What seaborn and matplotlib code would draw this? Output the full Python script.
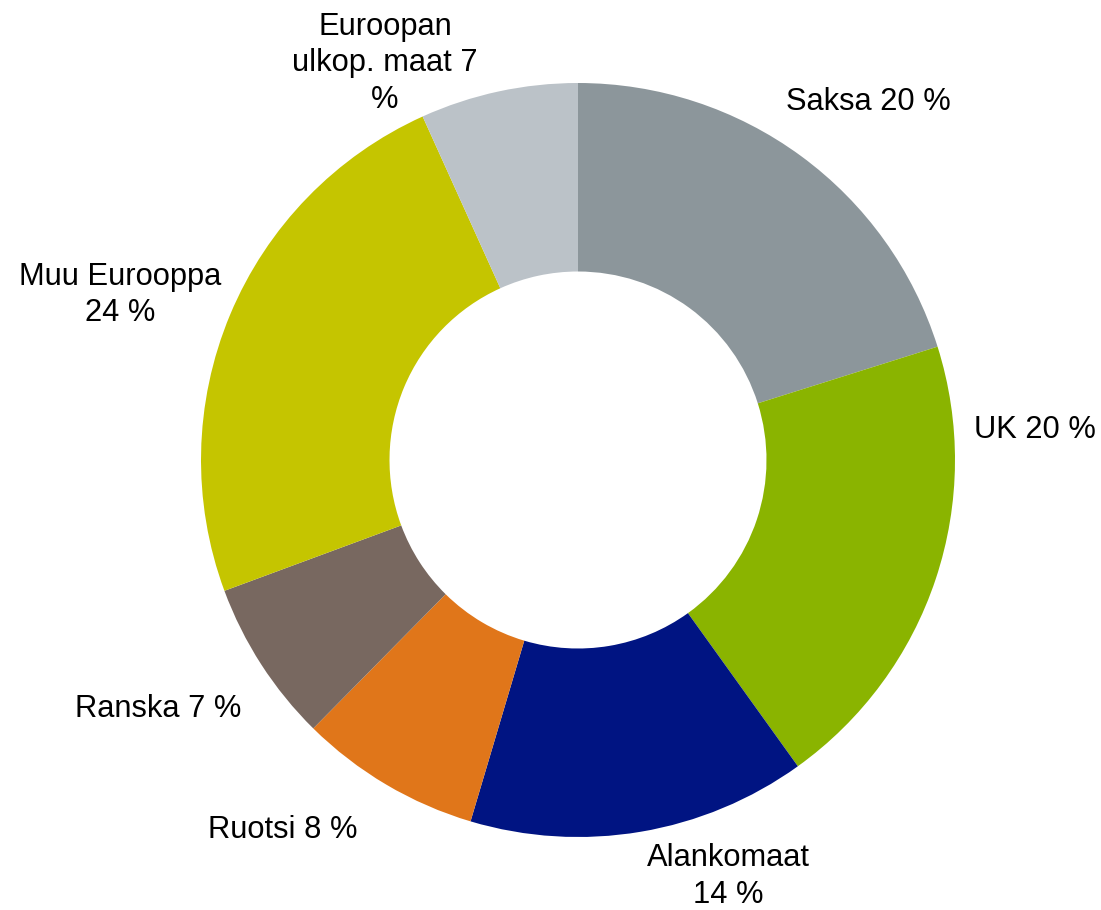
import matplotlib
matplotlib.use("Agg")
import matplotlib.pyplot as plt
import seaborn as sns

# Share by market (%), clockwise from the top
labels = ["Saksa 20 %", "UK 20 %", "Alankomaat\n14 %", "Ruotsi 8 %",
          "Ranska 7 %", "Muu Eurooppa\n24 %", "Euroopan\nulkop. maat 7\n%"]
shares = [20.14, 19.95, 14.51, 7.79, 6.97, 23.88, 6.76]
colors = ["#8C969B", "#8AB400", "#001482", "#E0761A",
          "#786860", "#C5C500", "#BBC2C8"]

# label spots in pie units (radius = 1)
label_pos = [(0.769, 0.950), (1.212, 0.080), (0.398, -1.105), (-0.782, -0.981),
             (-1.114, -0.660), (-1.215, 0.438), (-0.512, 1.052)]

sns.set_theme(style="white")
plt.rcParams['font.family'] = ['Liberation Sans', 'DejaVu Sans']

fig = plt.figure(figsize=(11.01, 9.10), dpi=100)
ax = fig.add_axes([0, 0, 1, 1])

wedges, _ = ax.pie(shares, colors=colors, startangle=90, counterclock=False,
                   radius=1, wedgeprops=dict(width=0.5, linewidth=0))

for lab, (x, y) in zip(labels, label_pos):
    ax.text(x, y, lab, ha="center", va="center", fontsize=22.2,
            color="black", linespacing=1.27)

ax.set_xlim(-578 / 377, (1101 - 578) / 377)
ax.set_ylim(-(910 - 460) / 377, 460 / 377)
ax.set_aspect("equal")
ax.axis("off")

fig.savefig("out.png", dpi=100)
